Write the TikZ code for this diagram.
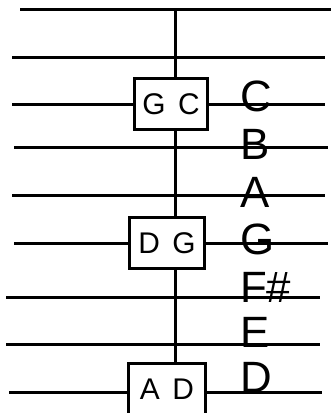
\documentclass[tikz,border=0pt]{standalone}
\usepackage{fontspec}
\setmainfont{Liberation Sans}

\begin{document}
\begin{tikzpicture}[x=1bp,y=-1bp]
	\useasboundingbox (0,0) rectangle (331,413);
	\begin{scope}
		[
			styleChord/.style={
				minimum width = #1, minimum height = 51bp, draw,
				inner sep = 0pt, line width = 3bp,
				font = \fontsize{30}{30}\selectfont
				},
			styleNote/.style={anchor = base west, inner sep = 0pt,
				font = \fontsize{44}{44}\selectfont},
			tip/.style={coordinate},
		]
		% ends of the nine lines
		\node(w1)[tip] at (20,9) {};    \node(e1)[tip] at (331,9) {};
		\node(w2)[tip] at (12,57) {};   \node(e2)[tip] at (325,57) {};
		\node(w3)[tip] at (12,104) {};  \node(e3)[tip] at (325,104) {};
		\node(w4)[tip] at (14,147) {};  \node(e4)[tip] at (328,147) {};
		\node(w5)[tip] at (12,195) {};  \node(e5)[tip] at (325,195) {};
		\node(w6)[tip] at (14,243) {};  \node(e6)[tip] at (328,243) {};
		\node(w7)[tip] at (6,297) {};   \node(e7)[tip] at (320,297) {};
		\node(w8)[tip] at (6,344) {};   \node(e8)[tip] at (320,344) {};
		\node(w9)[tip] at (9,392) {};   \node(e9)[tip] at (322,392) {};
		\node(top)[tip] at (175,9) {};

		\node(GC)[styleChord=72bp] at (171,104) {G\hspace{0.42em}C};
		\node(DG)[styleChord=74bp] at (167,243) {D\hspace{0.42em}G};
		\node(AD)[styleChord=76bp] at (167,389) {A\hspace{0.42em}D};

		\node(nC)[styleNote] at (240,111) {C};
		\node(nB)[styleNote] at (240,159) {B};
		\node(nA)[styleNote] at (240,207) {A};
		\node(nG)[styleNote] at (240,254) {G};
		\node(nFs)[styleNote] at (240,302) {F\#};
		\node(nE)[styleNote] at (240,347) {E};
		\node(nD)[styleNote] at (240,392) {D};
	\end{scope}

	\begin{scope}
		[line width = 3bp]
		\path
		(w1) edge                 (e1)
		(w2) edge                 (e2)
		(w3) edge                 (w3 -| GC.west)
		(w3 -| GC.east) edge      (e3)
		(w4) edge                 (e4)
		(w5) edge                 (e5)
		(w6) edge                 (w6 -| DG.west)
		(w6 -| DG.east) edge      (e6)
		(w7) edge                 (e7)
		(w8) edge                 (e8)
		(w9) edge                 (w9 -| AD.west)
		(w9 -| AD.east) edge      (e9)

		(top) edge                (top |- GC.north)
		(top |- GC.south) edge    (top |- DG.north)
		(top |- DG.south) edge    (top |- AD.north);
	\end{scope}
\end{tikzpicture}
\end{document}
